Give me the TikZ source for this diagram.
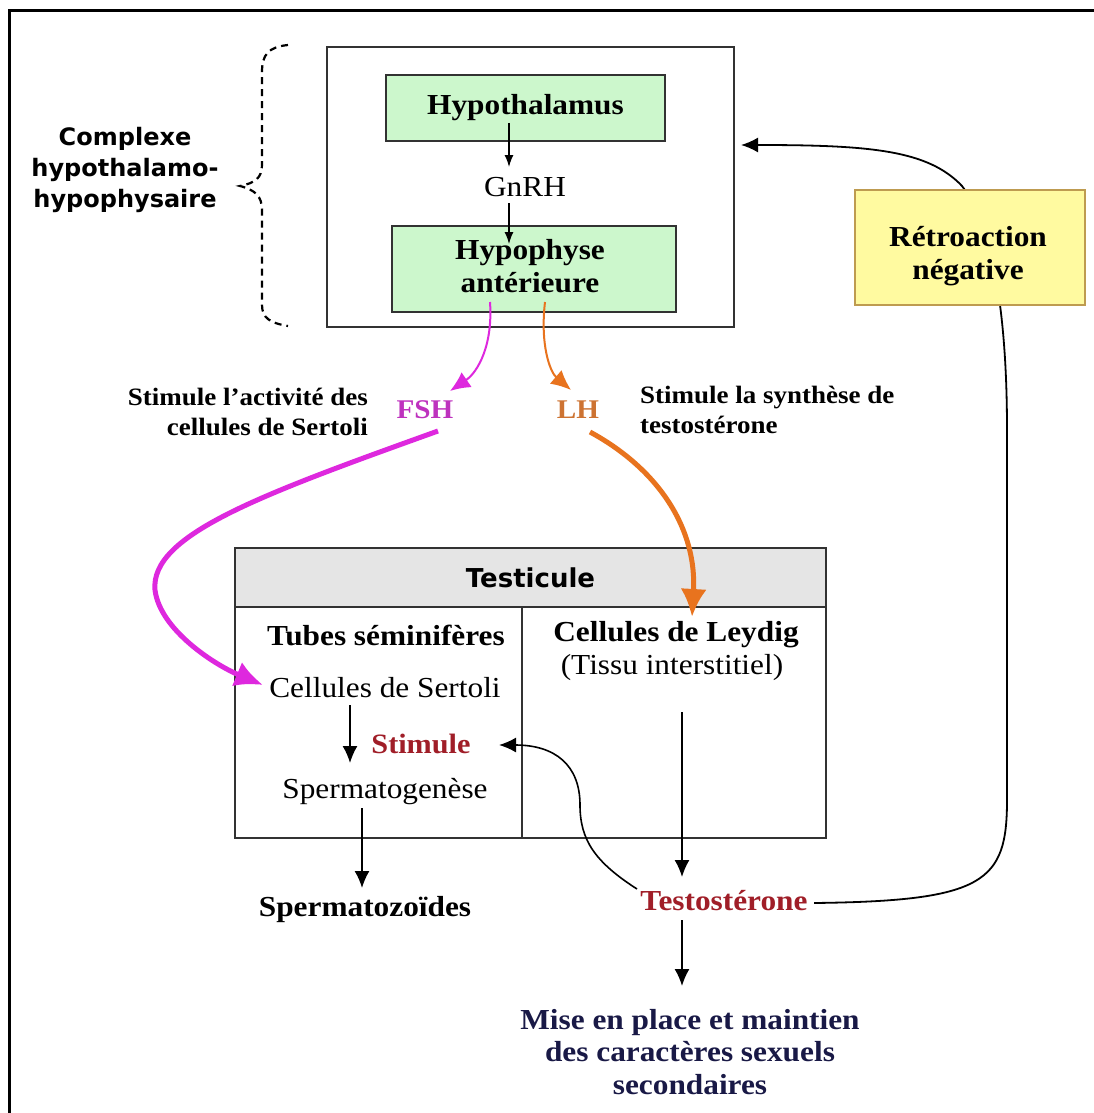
\documentclass[tikz,border=0pt]{standalone}
\usepackage{fontspec}
\setmainfont{Liberation Serif}[FakeStretch=1.08]
\newfontfamily\sansfont{DejaVu Sans}
\usetikzlibrary{arrows.meta}
\definecolor{hgreen}{RGB}{204,247,204}
\definecolor{hgray}{RGB}{229,229,229}
\definecolor{rety}{RGB}{255,250,160}
\definecolor{retb}{RGB}{190,155,80}
\definecolor{fshc}{RGB}{222,40,222}
\definecolor{fsht}{RGB}{190,50,190}
\definecolor{lhc}{RGB}{232,115,30}
\definecolor{lht}{RGB}{205,115,50}
\definecolor{dred}{RGB}{160,30,40}
\definecolor{navy}{RGB}{25,25,70}
\definecolor{frame}{RGB}{50,50,50}
\tikzset{
  boxg/.style={draw=frame, line width=1.8pt, fill=hgreen, inner sep=0pt},
  plainbox/.style={draw=frame, line width=1.8pt, inner sep=0pt},
  bt/.style={font=\fontsize{29}{33}\selectfont\bfseries, inner sep=0pt, align=center},
  rt/.style={font=\fontsize{29}{33}\selectfont, inner sep=0pt, align=center},
  lab/.style={font=\fontsize{25}{30}\selectfont\bfseries, inner sep=0pt},
  sf/.style={font=\fontsize{24}{31}\selectfont\sansfont\bfseries, inner sep=0pt, align=center},
  sarr/.style={-{Latex[length=12pt,width=9pt]}, line width=1.3pt},
  barr/.style={-{Latex[length=17pt,width=15pt]}, line width=1.6pt},
  thinc/.style={-{Latex[length=20pt,width=18pt]}, line width=2pt},
  thickc/.style={-{Latex[length=28pt,width=26pt]}, line width=5pt},
}
\begin{document}
\begin{tikzpicture}[x=1pt,y=-1pt]
\useasboundingbox (0,0) rectangle (1094,1113);
\fill[white] (0,0) rectangle (1094,1113);
% outer frame (top and left)
\draw[line width=3pt] (9,1113) -- (9,11) -- (1094,11);

\coordinate (fbin) at (741,145);

% complex
\node[plainbox, minimum width=407pt, minimum height=280pt] (complex) at (530.5,187) {};
\node[boxg, minimum width=279pt, minimum height=66pt, bt] (hypoth) at (525.5,108) {Hypothalamus};
\node[rt] (gnrh) at (525,187) {GnRH};
\node[boxg, minimum width=284pt, minimum height=86pt] (hypoph) at (534,269) {};
\node[bt] (hypophtxt) at (530,266) {Hypophyse\\antérieure};

\coordinate (g1) at (509,123);
\coordinate (g2) at (509,167);
\coordinate (g3) at (509,203);
\coordinate (g4) at (509,244);
\draw[sarr] (g1) -- (g2);
\draw[sarr] (g3) -- (g4);

% brace
\draw[line width=2.2pt, dash pattern=on 7pt off 5pt]
  (288,45) .. controls (268,47) and (262,55) .. (262,72) -- (262,165)
  .. controls (262,178) and (255,183) .. (240,186)
  .. controls (255,190) and (262,196) .. (262,210) -- (262,305)
  .. controls (262,318) and (270,323) .. (288,326);
\node[sf] (cplx) at (125,170) {Complexe\\hypothalamo-\\hypophysaire};

% FSH / LH
\node[font=\fontsize{27}{30}\selectfont\bfseries, text=fsht, inner sep=0pt] (fsh) at (425,410) {FSH};
\node[font=\fontsize{27}{30}\selectfont\bfseries, text=lht, inner sep=0pt] (lh) at (578,410) {LH};
\coordinate (fshs) at (490,302);
\coordinate (lhs) at (545,302);
\draw[thinc, draw=fshc] (fshs) .. controls (493,345) and (478,372) .. (450,391);
\draw[thinc, draw=lhc] (lhs) .. controls (540,345) and (550,372) .. (571,390);

\node[lab, anchor=east, align=right] (fshtxt) at (368,412) {Stimule l’activité des\\cellules de Sertoli};
\node[lab, anchor=west, align=left] (lhtxt) at (640,410) {Stimule la synthèse de\\testostérone};

% testicule
\node[plainbox, fill=hgray, minimum width=591pt, minimum height=59pt, font=\fontsize{26}{30}\selectfont\sansfont\bfseries] (testhead) at (530.5,577.5) {Testicule};
\node[plainbox, minimum width=591pt, minimum height=231pt] (testbody) at (530.5,722.5) {};
\draw[draw=frame, line width=1.8pt] (522,607) -- (522,838);

\node[bt] (tubes) at (386,635) {Tubes séminifères};
\node[bt] (leydig) at (676,635) {Cellules de Leydig};
\node[rt] (tissu) at (672,668) {(Tissu interstitiel)};
\node[rt] (sertoli) at (385,688) {Cellules de Sertoli};
\node[font=\fontsize{28}{30}\selectfont\bfseries, text=dred, inner sep=0pt] (stim) at (421,744) {Stimule};
\node[rt] (spermg) at (385,792) {Spermatogenèse};
\node[bt] (spermz) at (365,910) {Spermatozoïdes};
\node[bt, text=dred] (testo) at (724,901) {Testostérone};
\node[bt, text=navy, font=\fontsize{29}{32.5}\selectfont\bfseries] (mise) at (690,1052) {Mise en place et maintien\\des caractères sexuels\\secondaires};

% thick hormone arrows
\coordinate (fshb) at (438,431);
\coordinate (lhb) at (590,432);
\coordinate (sertin) at (263,685);
\coordinate (leydin) at (692,617);
\draw[thickc, draw=fshc] (fshb) .. controls (260,495) and (150,535) .. (155,590) .. controls (160,630) and (215,665) .. (sertin);
\draw[thickc, draw=lhc] (lhb) .. controls (660,470) and (697,530) .. (leydin);

% black arrows
\draw[barr] (350,705) -- (350,763);
\draw[barr] (362,808) -- (362,888);
\draw[barr] (682,712) -- (682,877);
\draw[barr] (682,920) -- (682,986);
\draw[barr] (637,889) .. controls (595,862) and (580,840) .. (580,805)
  .. controls (580,765) and (555,745) .. (499,745);

% feedback
\draw[barr, line width=1.8pt] (814,903) .. controls (985,901) and (1007,882) .. (1007,800)
  -- (1007,430) .. controls (1007,310) and (992,225) .. (962,186)
  .. controls (928,150) and (870,145) .. (fbin);
\node[draw=retb, fill=rety, line width=1.5pt, minimum width=230pt, minimum height=115pt, inner sep=0pt] (retro) at (970,247.5) {};
\node[bt] (retrotxt) at (968,256) {Rétroaction\\négative};
\end{tikzpicture}
\end{document}
